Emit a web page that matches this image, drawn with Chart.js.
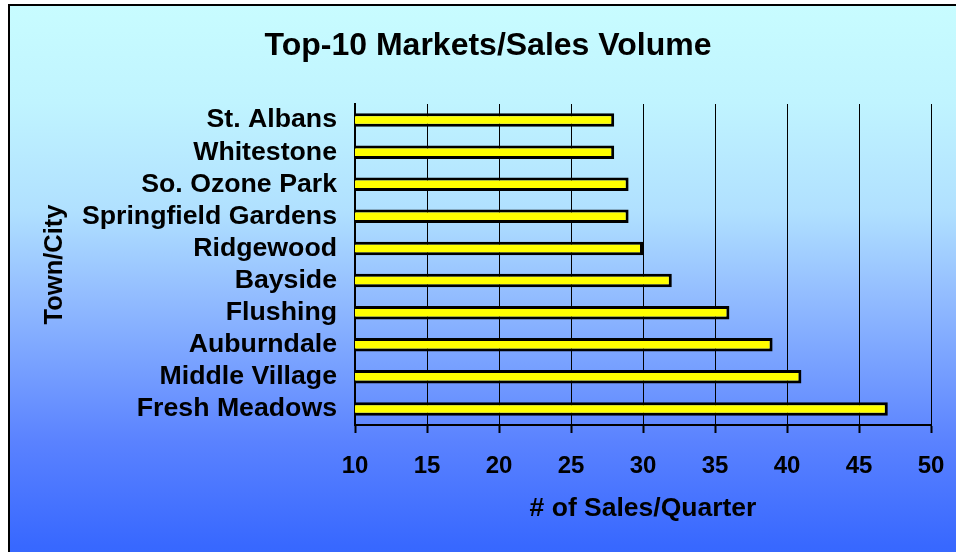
<!DOCTYPE html>
<html>
<head>
<meta charset="utf-8">
<script src="https://cdn.jsdelivr.net/npm/chart.js@4/dist/chart.umd.min.js"></script>
<style>
  html, body { margin: 0; padding: 0; background: #ffffff; overflow: hidden; width: 956px; height: 552px; }
  #box {
    position: absolute; left: 8px; top: 4px; width: 970px; height: 570px;
    border: 2px solid #000;
    background: linear-gradient(to bottom, #C8FCFF 0px, #C0F4FF 96px, #B0E0FF 206px, #94BEFF 286px, #5A82FF 436px, #3868FF 540px, #3366FF 570px);
  }
  #c { position: absolute; left: 0; top: 0; }
</style>
</head>
<body>
<div id="box"></div>
<canvas id="c" width="956" height="552"></canvas>
<script>
const chartTitle = "Top-10 Markets/Sales Volume";
const categories = ["St. Albans", "Whitestone", "So. Ozone Park", "Springfield Gardens", "Ridgewood", "Bayside", "Flushing", "Auburndale", "Middle Village", "Fresh Meadows"];
const salesPerQuarter = [28, 28, 29, 29, 30, 32, 36, 39, 41, 47];
const xTickValues = [10, 15, 20, 25, 30, 35, 40, 45, 50];
const xAxisTitle = "# of Sales/Quarter";
const yAxisTitle = "Town/City";

const FONT = "'Liberation Sans', Arial, sans-serif";

new Chart(document.getElementById('c'), {
  type: 'bar',
  data: {
    labels: categories,
    datasets: [{
      data: salesPerQuarter,
      backgroundColor: '#FFFF00',
      borderColor: '#000000',
      borderWidth: 3,
      borderSkipped: false,
      barPercentage: 0.42,
      categoryPercentage: 1.0
    }]
  },
  options: {
    indexAxis: 'y',
    responsive: false,
    animation: false,
    devicePixelRatio: 1,
    layout: { padding: { left: 45, right: 25, top: 0, bottom: 0 } },
    plugins: {
      legend: { display: false },
      tooltip: { enabled: false },
      title: {
        display: true,
        text: chartTitle,
        color: '#000',
        font: { family: FONT, size: 32, weight: 'bold' },
        padding: { top: 27, bottom: 38.6 }
      }
    },
    scales: {
      x: {
        min: xTickValues[0],
        max: xTickValues[xTickValues.length - 1],
        afterBuildTicks: (scale) => { scale.ticks = xTickValues.map(v => ({ value: v })); },
        afterFit: (scale) => { scale.height = 127; scale.paddingRight = 14; scale.paddingLeft = 14; },
        grid: {
          display: true,
          color: '#000',
          lineWidth: 1,
          borderDash: [12, 4],
          drawOnChartArea: true,
          drawTicks: true,
          tickLength: 8,
          tickColor: '#000',
          tickWidth: 2,
          tickBorderDash: []
        },
        border: { display: true, color: '#000', width: 2 },
        ticks: {
          color: '#000',
          padding: 19,
          font: { family: FONT, size: 24, weight: 'bold' }
        },
        title: {
          display: true,
          text: xAxisTitle,
          color: '#000',
          font: { family: FONT, size: 26.5, weight: 'bold' },
          padding: { top: 0, bottom: 27 }
        }
      },
      y: {
        afterFit: (scale) => { scale.width = 310; },
        grid: { display: false, drawTicks: false },
        border: { display: true, color: '#000', width: 2 },
        ticks: {
          color: '#000',
          padding: 18,
          autoSkip: false,
          font: { family: FONT, size: 26.7, weight: 'bold' }
        },
        title: {
          display: true,
          text: yAxisTitle,
          color: '#000',
          font: { family: FONT, size: 25.5, weight: 'bold' },
          padding: { top: -5, bottom: 0 }
        }
      }
    }
  }
});
</script>
</body>
</html>
